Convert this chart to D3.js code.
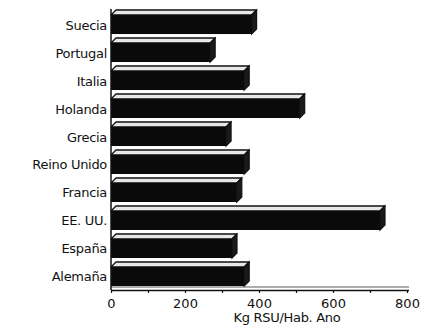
<!DOCTYPE html>
<html>
<head>
<meta charset="utf-8">
<script src="https://cdn.jsdelivr.net/npm/d3@7"></script>
<style>
  html, body { margin: 0; padding: 0; background: #fff; }
  svg { display: block; }
  text { font-family: "DejaVu Sans", sans-serif; fill: #111; }
</style>
</head>
<body>
<svg id="chart" width="426" height="328"></svg>
<script>
// Municipal solid waste per inhabitant, by country
const countries = ["Suecia", "Portugal", "Italia", "Holanda", "Grecia",
                   "Reino Unido", "Francia", "EE. UU.", "España", "Alemaña"];
const kgPerHab = [380, 268, 360, 510, 311, 360, 340, 727, 327, 360];
const tickValues = [0, 200, 400, 600, 800];
const axisTitle = "Kg RSU/Hab. Ano";

const svg = d3.select("#chart");
const x0 = 111, x1 = 407;
const depth = 5;

const x = d3.scaleLinear().domain([0, 800]).range([x0, x1]);
const y = d3.scaleBand().domain(countries).range([15, 286])
  .paddingInner(0.32).paddingOuter(0);

const rows = countries.map((c, i) => ({ name: c, value: kgPerHab[i] }));

// 3D bars: top face, right side, front face
const g = svg.append("g");
const bar = g.selectAll("g.bar").data(rows).join("g").attr("class", "bar");

bar.append("path")
  .attr("d", d => {
    const yt = y(d.name), xe = x(d.value);
    return `M${x0},${yt} L${x0 + depth},${yt - depth} L${xe + depth},${yt - depth} L${xe},${yt} Z`;
  })
  .attr("fill", "#e8e8e8").attr("stroke", "#111").attr("stroke-width", 1.4)
  .attr("stroke-linejoin", "round");

bar.append("path")
  .attr("d", d => {
    const yt = y(d.name), yb = yt + y.bandwidth(), xe = x(d.value);
    return `M${xe},${yt} L${xe + depth},${yt - depth} L${xe + depth},${yb - depth} L${xe},${yb} Z`;
  })
  .attr("fill", "#1a1a1a").attr("stroke", "#111").attr("stroke-width", 1.2);

bar.append("rect")
  .attr("x", x0)
  .attr("y", d => y(d.name))
  .attr("width", d => x(d.value) - x0)
  .attr("height", y.bandwidth())
  .attr("fill", "#0a0a0a");

// floor line
g.append("line").attr("x1", x0).attr("x2", x1 + 2).attr("y1", 287).attr("y2", 287)
  .attr("stroke", "#333").attr("stroke-width", 0.8);

// vertical axis line
g.append("line").attr("x1", x0).attr("x2", x0).attr("y1", 9).attr("y2", 290)
  .attr("stroke", "#111").attr("stroke-width", 1.5);

// category labels
g.selectAll("text.cat").data(rows).join("text").attr("class", "cat")
  .attr("x", 107)
  .attr("y", d => y(d.name) + y.bandwidth() / 2 + 1.5)
  .attr("text-anchor", "end")
  .attr("dominant-baseline", "middle")
  .attr("font-size", 13)
  .attr("letter-spacing", -0.3)
  .text(d => d.name);

// x axis
const xAxis = d3.axisBottom(x).tickValues(d3.range(0, 801, 100))
  .tickSize(3).tickFormat(d => tickValues.includes(d) ? d : "");
const ax = svg.append("g").attr("transform", "translate(0,290)").call(xAxis);
ax.select(".domain").attr("stroke", "#111").attr("stroke-width", 1.5)
  .attr("d", `M${x0},0.5H${x1 + 2}`);
ax.selectAll(".tick line").attr("stroke", "#111").attr("stroke-width", 1.2);
ax.selectAll(".tick text").attr("font-size", 13).attr("dy", "0.95em")
  .attr("font-family", "DejaVu Sans, sans-serif").attr("fill", "#222");

svg.append("text")
  .attr("x", 287).attr("y", 322)
  .attr("text-anchor", "middle")
  .attr("font-size", 13)
  .attr("letter-spacing", -0.3)
  .text(axisTitle);
</script>
</body>
</html>
